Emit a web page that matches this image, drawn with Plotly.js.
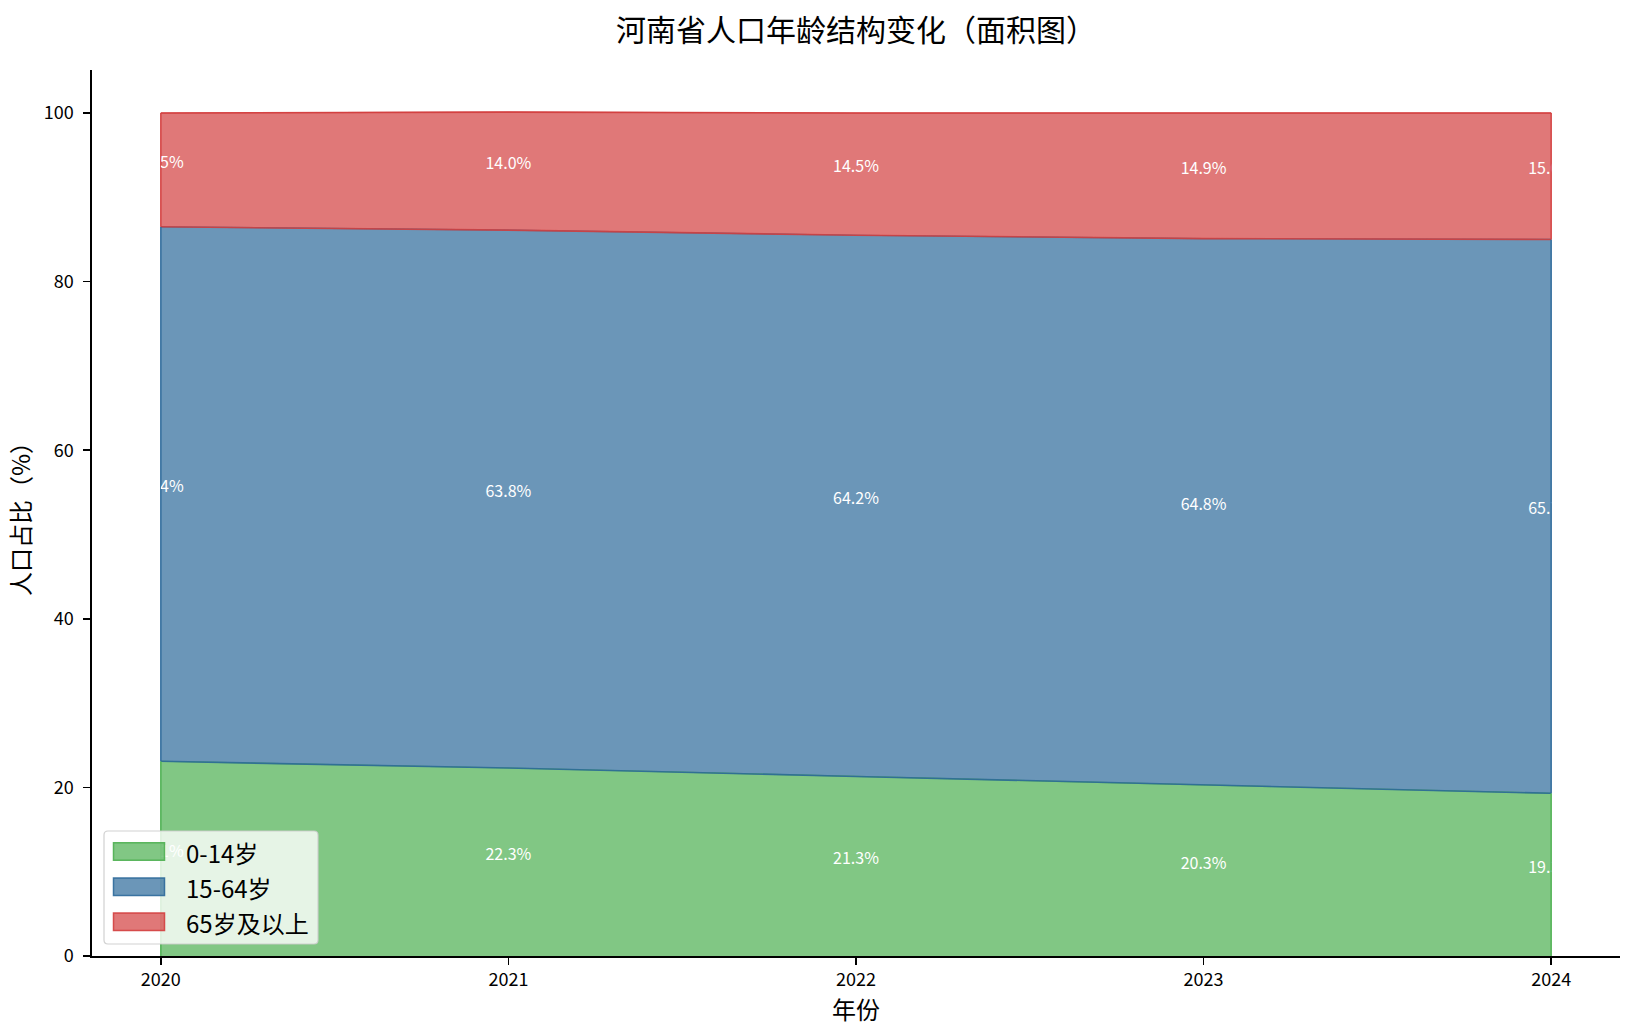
<!DOCTYPE html>
<html>
<head>
<meta charset="utf-8">
<script src="https://cdn.plot.ly/plotly-3.0.1.min.js"></script>
<style>html,body{margin:0;padding:0;background:#fff;}#chart{width:1635px;height:1035px;}</style>
</head>
<body>
<div id="chart"></div>
<script>
const years = [2020, 2021, 2022, 2023, 2024];
const seriesNames = ['0-14岁', '15-64岁', '65岁及以上'];
const age0_14 = [23.1, 22.3, 21.3, 20.3, 19.3];
const age15_64 = [63.4, 63.8, 64.2, 64.8, 65.7];
const age65plus = [13.5, 14.0, 14.5, 14.9, 15.0];
const yTicks = [0, 20, 40, 60, 80, 100];

const fillColors = ['rgba(76,175,80,0.7)', 'rgba(44,105,154,0.7)', 'rgba(211,63,63,0.7)'];
const lineColors = ['rgba(76,175,80,0.9)', 'rgba(44,105,154,0.9)', 'rgba(211,63,63,0.9)'];
const series = [age0_14, age15_64, age65plus];

const font = '"Noto Sans CJK SC", "Noto Sans", sans-serif';
const traces = [];
series.forEach((vals, i) => {
  traces.push({
    x: years, y: vals, name: seriesNames[i], type: 'scatter', mode: 'lines',
    stackgroup: 'one', fillcolor: fillColors[i], showlegend: false,
    line: {color: lineColors[i], width: 1.2}, hoverinfo: 'skip'
  });
});

// cumulative boundaries
const cum1 = years.map((_, j) => age0_14[j]);
const cum2 = years.map((_, j) => age0_14[j] + age15_64[j]);
const cum3 = years.map((_, j) => cum2[j] + age65plus[j]);
const bottoms = [years.map(() => 0), cum1, cum2];
const tops = [cum1, cum2, cum3];
const last = years.length - 1;

// polygon edges: upper boundary coloured by band above, vertical edges at both ends
traces.push({x: years, y: cum1, mode: 'lines', showlegend: false, hoverinfo: 'skip',
  line: {color: lineColors[1], width: 1.6}});
traces.push({x: years, y: cum2, mode: 'lines', showlegend: false, hoverinfo: 'skip',
  line: {color: lineColors[2], width: 1.6}});
traces.push({x: years, y: cum3, mode: 'lines', showlegend: false, hoverinfo: 'skip',
  line: {color: lineColors[2], width: 1.6}});
series.forEach((vals, i) => {
  [0, last].forEach(j => {
    traces.push({x: [years[j], years[j]], y: [bottoms[i][j], tops[i][j]], mode: 'lines',
      showlegend: false, hoverinfo: 'skip', line: {color: lineColors[i], width: 1.6}});
  });
});

// percentage labels in the middle of each band, clipped to the 2020-2024 span
series.forEach((vals, i) => {
  traces.push({
    x: years, y: years.map((_, j) => (bottoms[i][j] + tops[i][j]) / 2 + 0.7),
    text: vals.map(v => v.toFixed(1) + '%'),
    mode: 'text', textposition: 'middle center', cliponaxis: true,
    textfont: {color: 'white', size: 16, family: font},
    xaxis: 'x2', yaxis: 'y2', showlegend: false, hoverinfo: 'skip'
  });
});

const L = 92, R = 15, T = 70, B = 79;
const PW = 1635 - L - R, PH = 1035 - T - B;
const xMin = 2019.802, xMax = 2024.198;
const d0 = (2020 - xMin) / (xMax - xMin), d1 = (2024 - xMin) / (xMax - xMin);
const yRange = [0, 105.1];

// custom legend (matplotlib style patches), in pixel positions converted to paper coords
const px = v => (v - L) / PW;
const py = v => (1035 - B - v) / PH;
const shapes = [];
const annotations = [];
const lgX0 = 104, lgX1 = 318, lgY0 = 831, lgY1 = 944, r = 4;
shapes.push({type: 'path', xref: 'paper', yref: 'paper', layer: 'above',
  path: `M ${px(lgX0 + r)},${py(lgY0)} L ${px(lgX1 - r)},${py(lgY0)} Q ${px(lgX1)},${py(lgY0)} ${px(lgX1)},${py(lgY0 + r)} ` +
        `L ${px(lgX1)},${py(lgY1 - r)} Q ${px(lgX1)},${py(lgY1)} ${px(lgX1 - r)},${py(lgY1)} ` +
        `L ${px(lgX0 + r)},${py(lgY1)} Q ${px(lgX0)},${py(lgY1)} ${px(lgX0)},${py(lgY1 - r)} ` +
        `L ${px(lgX0)},${py(lgY0 + r)} Q ${px(lgX0)},${py(lgY0)} ${px(lgX0 + r)},${py(lgY0)} Z`,
  fillcolor: 'rgba(255,255,255,0.8)', line: {color: 'rgba(204,204,204,0.9)', width: 1.2}});
const rowCenters = [851.5, 886.7, 921.7];
seriesNames.forEach((name, i) => {
  const cy = rowCenters[i];
  shapes.push({type: 'rect', xref: 'paper', yref: 'paper', layer: 'above',
    x0: px(113.5), x1: px(164.5), y0: py(cy - 8.7), y1: py(cy + 8.7),
    fillcolor: fillColors[i], line: {color: lineColors[i], width: 1.5}});
  annotations.push({xref: 'paper', yref: 'paper', x: px(184), y: py(cy + 1),
    xanchor: 'left', yanchor: 'middle', showarrow: false, text: name,
    font: {size: 24, family: font, color: '#000'}});
});

const layout = {
  width: 1635, height: 1035,
  paper_bgcolor: 'white', plot_bgcolor: 'rgba(0,0,0,0)',
  margin: {l: L, r: R, t: T, b: B},
  font: {family: font, color: '#000'},
  showlegend: false,
  title: {text: '河南省人口年龄结构变化（面积图）', xref: 'paper', x: 0.5, xanchor: 'center',
    yref: 'container', y: 1 - 30 / 1035, yanchor: 'middle',
    font: {size: 30, family: font, color: '#000'}},
  xaxis: {range: [xMin, xMax], tickvals: years, ticktext: years.map(String),
    showgrid: false, zeroline: false, showline: true, linecolor: '#000', linewidth: 1.6,
    ticks: 'outside', ticklen: 7, tickwidth: 1.6, tickcolor: '#000', tickfont: {size: 18, family: font},
    title: {text: '年份', font: {size: 24, family: font}, standoff: 6}},
  yaxis: {range: yRange, tickvals: yTicks, showgrid: false, zeroline: false,
    showline: true, linecolor: '#000', linewidth: 1.6,
    ticks: 'outside', ticklen: 7, tickwidth: 1.6, tickcolor: '#000', tickfont: {size: 18, family: font},
    ticklabelstandoff: 6,
    title: {text: '人口占比（%）', font: {size: 24, family: font}, standoff: 6}},
  xaxis2: {domain: [d0, d1], range: [2020, 2024], anchor: 'y2', visible: false, fixedrange: true},
  yaxis2: {domain: [0, 1], range: yRange, anchor: 'x2', visible: false, fixedrange: true},
  shapes: shapes,
  annotations: annotations
};

Plotly.newPlot('chart', traces, layout, {displayModeBar: false, staticPlot: true});
</script>
</body>
</html>
